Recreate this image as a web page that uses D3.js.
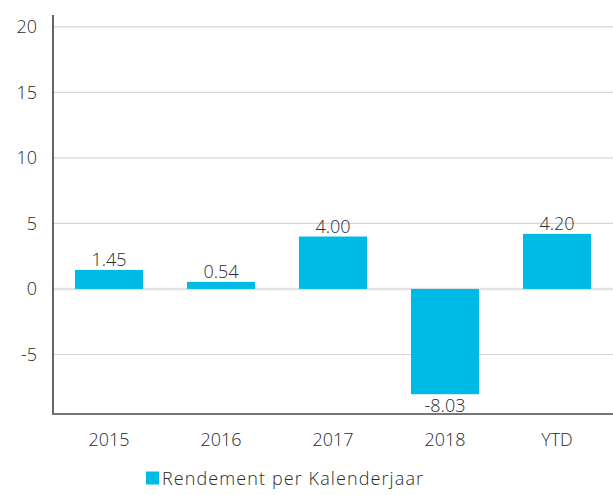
<!DOCTYPE html>
<html>
<head>
<meta charset="utf-8">
<script src="https://cdn.jsdelivr.net/npm/d3@7"></script>
<style>
    body { margin: 0; background: #fff; }
    text { font-family: "Open Sans", Lato, sans-serif; fill: #2b2b2b; font-weight: 300; }
</style>
</head>
<body>
<div id="chart"></div>
<script>
// data
let categories = ["2015", "2016", "2017", "2018", "YTD"];
let values = [1.45, 0.54, 4.00, -8.03, 4.20];
let yTicks = [-5, 0, 5, 10, 15, 20];
let seriesName = "Rendement per Kalenderjaar";

let width = 613, height = 495;
let barColor = "#00bae6";
let fontSize = "18px";

let svg = d3.select("#chart").append("svg")
    .attr("width", width)
    .attr("height", height);

let x = d3.scaleBand()
    .domain(categories)
    .range([53, 613])
    .paddingInner(0.393)
    .paddingOuter(0.1965);

let y = d3.scaleLinear()
    .domain([-9.54, 20.9])
    .range([414, 15]);

// gridlines
svg.append("g")
    .selectAll("line")
    .data(yTicks)
    .enter()
    .append("line")
    .attr("x1", 53)
    .attr("x2", 613)
    .attr("y1", d => y(d))
    .attr("y2", d => y(d))
    .attr("stroke", d => d === 0 ? "#e3e3e3" : "#d6d6d6")
    .attr("stroke-width", d => d === 0 ? 2.5 : 1.2);

// y axis
let yAxis = d3.axisLeft(y).tickValues(yTicks).tickSize(0).tickPadding(16)
    .tickFormat(d => String(d));
let yG = svg.append("g")
    .attr("transform", "translate(53,0)")
    .call(yAxis);
yG.select(".domain").remove();
yG.selectAll("text").style("font-size", fontSize).style("font-family", null);

svg.append("line")
    .attr("x1", 53).attr("x2", 53)
    .attr("y1", 15).attr("y2", 414)
    .attr("stroke", "#333")
    .attr("stroke-width", 1.5);

// bars
svg.append("g")
    .selectAll("rect")
    .data(values)
    .enter()
    .append("rect")
    .attr("x", (d, i) => x(categories[i]))
    .attr("width", x.bandwidth())
    .attr("y", d => y(Math.max(0, d)))
    .attr("height", d => Math.abs(y(d) - y(0)))
    .attr("fill", barColor);

// value labels
svg.append("g")
    .selectAll("text")
    .data(values)
    .enter()
    .append("text")
    .attr("x", (d, i) => x(categories[i]) + x.bandwidth() / 2)
    .attr("y", d => d >= 0 ? y(d) - 4 : y(d) + 18)
    .attr("text-anchor", "middle")
    .style("font-size", fontSize)
    .text(d => d.toFixed(2));

// x axis
let xAxis = d3.axisBottom(x).tickSize(0).tickPadding(19);
let xG = svg.append("g")
    .attr("transform", "translate(0,414)")
    .call(xAxis);
xG.select(".domain").remove();
xG.selectAll("text").style("font-size", fontSize).style("font-family", null);

svg.append("line")
    .attr("x1", 52).attr("x2", 613)
    .attr("y1", 414).attr("y2", 414)
    .attr("stroke", "#777")
    .attr("stroke-width", 2);

// legend
let legend = svg.append("g")
    .attr("transform", "translate(146,471.5)");
legend.append("rect")
    .attr("width", 13)
    .attr("height", 13)
    .attr("fill", barColor);
legend.append("text")
    .attr("x", 16)
    .attr("y", 13)
    .style("font-size", fontSize)
    .style("letter-spacing", "1.1px")
    .text(seriesName);
</script>
</body>
</html>
